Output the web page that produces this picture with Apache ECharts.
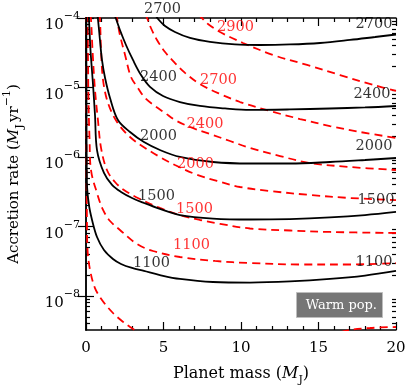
<!DOCTYPE html>
<html>
<head>
<meta charset="utf-8">
<script src="https://cdn.jsdelivr.net/npm/echarts@6/dist/echarts.min.js"></script>
<style>html,body{margin:0;padding:0;background:#fff}#c{width:407px;height:388px}</style>
</head>
<body>
<div id="c"></div>
<script>
// ---- data (planet mass in M_J, accretion rate in M_J/yr) ----
const massTicks = [0, 5, 10, 15, 20];
const rateTicks = [1e-8, 1e-7, 1e-6, 1e-5, 1e-4];
const massRange = [0, 20];
const rateRange = [3.24e-9, 1e-4];

const black1100 = [[0.02,1.14e-4],[0.03,6.61e-6],[0.06,4.23e-7],[0.19,2.04e-7],[0.39,1.24e-7],[0.71,7.06e-8],[1.16,4.59e-8],[1.74,3.41e-8],[2.26,2.89e-8],[2.97,2.53e-8],[3.74,2.29e-8],[4.77,2.0e-8],[6.06,1.76e-8],[8.19,1.59e-8],[10.58,1.56e-8],[13.16,1.62e-8],[15.74,1.76e-8],[18.0,1.97e-8],[20,2.29e-8]];
const black1500 = [[0.16,1.14e-4],[0.19,9.67e-5],[0.29,3.46e-5],[0.45,1.12e-5],[0.58,4.02e-6],[0.71,1.26e-6],[1.16,5.89e-7],[1.68,3.96e-7],[2.26,3.14e-7],[2.97,2.57e-7],[3.74,2.18e-7],[4.77,1.79e-7],[6.06,1.46e-7],[8.19,1.30e-7],[10.58,1.26e-7],[13.16,1.28e-7],[15.74,1.35e-7],[18.0,1.46e-7],[20,1.62e-7]];
const black2000 = [[0.71,1.14e-4],[0.77,9.67e-5],[0.90,4.83e-5],[1.03,2.49e-5],[1.23,1.37e-5],[1.55,7.06e-6],[2.06,3.41e-6],[2.84,2.29e-6],[3.74,1.64e-6],[4.77,1.26e-6],[6.06,1.0e-6],[8.19,8.47e-7],[10.58,8.06e-7],[13.16,8.06e-7],[15.74,8.47e-7],[18.0,9.05e-7],[20,9.67e-7]];
const black2400 = [[1.81,1.14e-4],[1.94,9.67e-5],[2.19,6.72e-5],[2.58,4.09e-5],[3.03,2.49e-5],[3.55,1.51e-5],[4.13,1.02e-5],[4.97,7.54e-6],[6.06,6.18e-6],[7.35,5.42e-6],[8.97,4.99e-6],[10.58,4.75e-6],[13.16,4.83e-6],[15.74,4.99e-6],[18.0,5.16e-6],[20,5.42e-6]];
const black2700 = [[4.45,1.14e-4],[4.65,9.67e-5],[5.10,7.67e-5],[5.74,6.29e-5],[6.71,5.16e-5],[8.0,4.52e-5],[9.61,4.16e-5],[11.23,4.09e-5],[13.16,4.16e-5],[15.10,4.37e-5],[17.03,4.83e-5],[18.65,5.33e-5],[20,5.79e-5]];

const redLowest = [[0.02,1.14e-4],[0.03,1.26e-6],[0.06,1.24e-7],[0.10,4.59e-8],[0.26,2.37e-8],[0.58,1.30e-8],[1.03,8.76e-9],[1.74,5.69e-9],[2.32,4.37e-9],[2.84,3.58e-9],[3.48,2.94e-9],[5.42,1.97e-9],[10.58,1.56e-9],[14.45,2.11e-9],[16.71,3.14e-9],[18.32,3.46e-9],[20,3.58e-9]];
const red1100 = [[0.10,1.14e-4],[0.13,2.49e-5],[0.16,6.61e-6],[0.23,1.76e-6],[0.32,6.50e-7],[0.71,3.03e-7],[1.10,1.73e-7],[1.55,1.20e-7],[2.19,8.91e-8],[3.29,5.60e-8],[4.32,4.44e-8],[6.06,3.64e-8],[8.32,3.19e-8],[10.58,2.98e-8],[13.81,2.84e-8],[17.03,2.84e-8],[20,2.98e-8]];
const red1500 = [[0.26,1.14e-4],[0.32,9.67e-5],[0.42,3.46e-5],[0.58,9.20e-6],[0.77,3.41e-6],[0.97,1.35e-6],[1.35,6.50e-7],[1.87,4.37e-7],[2.45,3.35e-7],[3.48,2.49e-7],[4.77,1.85e-7],[6.06,1.46e-7],[7.35,1.24e-7],[8.65,1.09e-7],[10.58,9.36e-8],[13.16,8.76e-8],[15.74,8.34e-8],[20,8.06e-8]];
const red2000 = [[0.84,1.14e-4],[0.90,9.67e-5],[0.97,3.46e-5],[1.10,1.28e-5],[1.42,5.98e-6],[2.0,3.19e-6],[2.84,1.94e-6],[3.81,1.35e-6],[4.77,1.0e-6],[5.74,7.67e-7],[7.03,5.69e-7],[8.45,4.52e-7],[9.94,3.70e-7],[11.87,3.24e-7],[14.45,2.84e-7],[17.03,2.57e-7],[20,2.40e-7]];
const red2400 = [[1.94,1.14e-4],[2.0,9.67e-5],[2.19,5.69e-5],[2.52,2.94e-5],[2.90,1.42e-5],[3.35,9.84e-6],[3.81,7.06e-6],[4.45,5.42e-6],[5.10,4.30e-6],[5.74,3.41e-6],[6.71,2.70e-6],[8.0,2.14e-6],[9.29,1.70e-6],[10.58,1.35e-6],[12.52,1.03e-6],[14.45,8.20e-7],[17.03,7.18e-7],[20,6.50e-7]];
const red2700 = [[3.81,1.14e-4],[3.94,1e-4],[4.19,7.18e-5],[4.58,4.83e-5],[5.10,3.24e-5],[5.74,2.25e-5],[6.39,1.62e-5],[7.35,1.12e-5],[8.65,8.06e-6],[9.94,6.18e-6],[11.87,4.59e-6],[13.81,3.52e-6],[15.74,2.79e-6],[17.68,2.29e-6],[20,1.88e-6]];
const red2900 = [[7.23,1.14e-4],[7.48,1e-4],[7.87,8.20e-5],[8.65,6.29e-5],[9.42,5.16e-5],[10.13,4.37e-5],[12.06,2.94e-5],[14.26,2.11e-5],[16.39,1.51e-5],[18.52,1.09e-5],[20,8.91e-6]];

const blackLabels = [['2700',4.94,1.35e-4],['2700',18.58,8.20e-5],['2400',4.68,1.39e-5],['2400',18.45,8.06e-6],['2000',4.68,2.0e-6],['2000',18.58,1.44e-6],['1500',4.55,2.75e-7],['1500',18.71,2.40e-7],['1100',4.23,2.94e-8],['1100',18.58,3.08e-8]];
const redLabels = [['2900',9.65,7.42e-5],['2700',8.55,1.28e-5],['2400',7.68,2.98e-6],['2000',7.06,7.93e-7],['1500',7.0,1.79e-7],['1100',6.81,5.42e-8]];

const boxText = 'Warm pop.';

// ---- build ----
const FONT = 'DejaVu Serif';
const L = Math.log10;
const yMin = L(rateRange[0]), yMax = L(rateRange[1]);
const majorY = rateTicks.map(L);
const minorY = [];
for (let n = -9; n <= -5; n++) for (let k = 2; k <= 9; k++) {
  const v = L(k * Math.pow(10, n));
  if (v > yMin && v < yMax) minorY.push(v);
}
const toLog = arr => arr.map(p => [p[0], L(p[1])]);

function lineSeries(data, color, dashed) {
  return {
    type: 'line', data: toLog(data), showSymbol: false, smooth: 0.35,
    xAxisIndex: 0, yAxisIndex: 0, silent: true, clip: true,
    lineStyle: { color: color, width: 1.8, type: dashed ? [8, 5] : 'solid' },
    z: dashed ? 3 : 4
  };
}
function labelSeries(arr, color) {
  return {
    type: 'scatter', xAxisIndex: 0, yAxisIndex: 0, clip: false, silent: true,
    symbol: 'circle', symbolSize: 0, itemStyle: { color: 'rgba(0,0,0,0)' }, z: 10,
    data: arr.map(a => ({ name: a[0], value: [a[1], L(a[2])] })),
    label: { show: true, position: 'inside', formatter: p => p.name, color: color,
             fontFamily: FONT, fontSize: 14.5 }
  };
}

const yLabelRich = {
  b: { fontFamily: FONT, fontSize: 15, color: '#000', lineHeight: 22, verticalAlign: 'bottom' },
  s: { fontFamily: FONT, fontSize: 11, color: '#000', lineHeight: 22, verticalAlign: 'top' }
};

const yBase = {
  type: 'value', min: yMin, max: yMax, splitLine: { show: false },
  axisLine: { show: true, lineStyle: { color: '#000', width: 1.5 } }
};

const option = {
  animation: false,
  backgroundColor: '#fff',
  grid: { left: 86, right: 11, top: 18, bottom: 58, containLabel: false, outerBoundsMode: 'none' },
  xAxis: [
    { type: 'value', min: massRange[0], max: massRange[1], interval: 5, position: 'bottom',
      axisLine: { lineStyle: { color: '#000', width: 1.5 } },
      axisTick: { inside: true, length: 8, lineStyle: { color: '#000', width: 1.2 } },
      minorTick: { show: true, splitNumber: 5, length: 4, lineStyle: { color: '#000', width: 1.2 } },
      splitLine: { show: false }, minorSplitLine: { show: false },
      axisLabel: { margin: 11, fontFamily: FONT, fontSize: 15, color: '#000',
                   customValues: massTicks },
      name: 'Planet mass ({i|M}{sub|J})', nameLocation: 'middle', nameGap: 32,
      nameTextStyle: { fontFamily: FONT, fontSize: 16, color: '#000',
        rich: { i: { fontFamily: FONT, fontSize: 16, fontStyle: 'italic', color: '#000' },
                sub: { fontFamily: FONT, fontSize: 11, color: '#000', verticalAlign: 'bottom', lineHeight: 24 } } }
    },
    { type: 'value', min: massRange[0], max: massRange[1], interval: 5, position: 'top',
      axisLine: { lineStyle: { color: '#000', width: 1.5 } },
      axisTick: { inside: true, length: 8, lineStyle: { color: '#000', width: 1.2 } },
      minorTick: { show: true, splitNumber: 5, length: 4, lineStyle: { color: '#000', width: 1.2 } },
      splitLine: { show: false }, minorSplitLine: { show: false },
      axisLabel: { show: false }
    }
  ],
  yAxis: [
    Object.assign({}, yBase, { position: 'left',
      axisTick: { inside: true, length: 8, customValues: majorY, lineStyle: { color: '#000', width: 1.2 } },
      axisLabel: { margin: 6, customValues: majorY, rich: yLabelRich, padding: [8, 0, 0, 0],
        formatter: v => '{b|10}{s|\u2212' + Math.round(-v) + '}' },
      name: 'Accretion rate ({i|M}{sub|J}{sp| }yr{sup|\u22121})', nameLocation: 'middle', nameGap: 60, nameRotate: 90,
      nameTextStyle: { fontFamily: FONT, fontSize: 15, color: '#000',
        rich: { i: { fontFamily: FONT, fontSize: 15, fontStyle: 'italic', color: '#000', lineHeight: 24, verticalAlign: 'middle' },
                sub: { fontFamily: FONT, fontSize: 11, color: '#000', verticalAlign: 'bottom', lineHeight: 24 },
                sp: { fontFamily: FONT, fontSize: 8, lineHeight: 24 },
                sup: { fontFamily: FONT, fontSize: 11, color: '#000', verticalAlign: 'top', lineHeight: 24 } } }
    }),
    Object.assign({}, yBase, { position: 'right',
      axisTick: { inside: true, length: 8, customValues: majorY, lineStyle: { color: '#000', width: 1.2 } },
      axisLabel: { show: false } }),
    Object.assign({}, yBase, { position: 'left', axisLine: { show: false },
      axisTick: { inside: true, length: 4, customValues: minorY, lineStyle: { color: '#000', width: 1.2 } },
      axisLabel: { show: false } }),
    Object.assign({}, yBase, { position: 'right', axisLine: { show: false },
      axisTick: { inside: true, length: 4, customValues: minorY, lineStyle: { color: '#000', width: 1.2 } },
      axisLabel: { show: false } })
  ],
  series: [
    lineSeries(redLowest, '#ff0000', true),
    lineSeries(red1100, '#ff0000', true),
    lineSeries(red1500, '#ff0000', true),
    lineSeries(red2000, '#ff0000', true),
    lineSeries(red2400, '#ff0000', true),
    lineSeries(red2700, '#ff0000', true),
    lineSeries(red2900, '#ff0000', true),
    lineSeries(black1100, '#000000', false),
    lineSeries(black1500, '#000000', false),
    lineSeries(black2000, '#000000', false),
    lineSeries(black2400, '#000000', false),
    lineSeries(black2700, '#000000', false),
    labelSeries(blackLabels, '#000000'),
    labelSeries(redLabels, '#ff0000')
  ],
  graphic: [
    { type: 'rect', right: 24, bottom: 70, z: 20,
      shape: { width: 86, height: 25 },
      style: { fill: '#767676', stroke: '#bdbdbd', lineWidth: 1 } },
    { type: 'text', right: 30, bottom: 76, z: 21,
      style: { text: boxText, fill: '#fff', font: '13px "DejaVu Serif"' } }
  ]
};

const chart = echarts.init(document.getElementById('c'), null, { renderer: 'canvas' });
chart.setOption(option);
</script>
</body>
</html>
